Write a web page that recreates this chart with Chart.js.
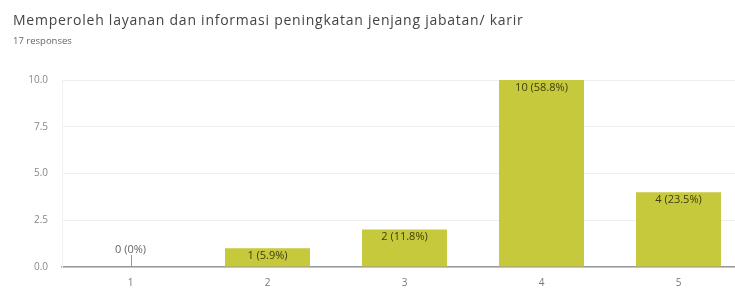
<!DOCTYPE html>
<html>
<head>
<meta charset="utf-8">
<script src="https://cdn.jsdelivr.net/npm/chart.js@4"></script>
<style>
  html, body { margin: 0; padding: 0; background: #fff; overflow: hidden; }
  body { width: 735px; height: 288px; position: relative; font-family: "Open Sans", Arial, sans-serif; }
  .title { position: absolute; left: 13px; top: 10px; font-size: 14px; letter-spacing: 0.75px; color: #444; white-space: nowrap; }
  .sub { position: absolute; left: 13px; top: 34px; font-size: 9.5px; color: #666; }
  .wrap { position: absolute; left: 0; top: 0; width: 750px; height: 288px; }
</style>
</head>
<body>
<div class="wrap"><canvas id="chart"></canvas></div>
<div class="title">Memperoleh layanan dan informasi peningkatan jenjang jabatan/ karir</div>
<div class="sub">17 responses</div>
<script>
const categories = ['1', '2', '3', '4', '5'];
const counts = [0, 1, 2, 10, 4];
const labels = ['0 (0%)', '1 (5.9%)', '2 (11.8%)', '10 (58.8%)', '4 (23.5%)'];
const yTicks = [0, 2.5, 5, 7.5, 10];

// draws the "n (x%)" text at the top of each bar
const barLabels = {
  id: 'barLabels',
  afterDatasetsDraw(chart) {
    const ctx = chart.ctx;
    const meta = chart.getDatasetMeta(0);
    const base = chart.scales.y.getPixelForValue(0);
    ctx.save();
    ctx.font = '11px "Open Sans", Arial, sans-serif';
    ctx.textAlign = 'center';
    meta.data.forEach((bar, i) => {
      if (counts[i] === 0) {
        ctx.strokeStyle = '#999';
        ctx.lineWidth = 1;
        ctx.beginPath();
        ctx.moveTo(Math.round(bar.x) + 0.5, base - 12);
        ctx.lineTo(Math.round(bar.x) + 0.5, base);
        ctx.stroke();
        ctx.fillStyle = '#666';
        ctx.textBaseline = 'bottom';
        ctx.fillText(labels[i], bar.x, base - 12);
      } else {
        ctx.fillStyle = '#3d3d10';
        ctx.textBaseline = 'top';
        ctx.fillText(labels[i], bar.x, bar.y + 2);
      }
    });
    ctx.restore();
  }
};

new Chart(document.getElementById('chart'), {
  type: 'bar',
  data: {
    labels: categories,
    datasets: [{
      data: counts,
      backgroundColor: '#c6c93b',
      borderWidth: 0,
      categoryPercentage: 1,
      barPercentage: 0.62
    }]
  },
  options: {
    responsive: true,
    maintainAspectRatio: false,
    animation: false,
    layout: { padding: { top: 80, left: 0, right: 3, bottom: 0 } },
    plugins: {
      legend: { display: false },
      tooltip: { enabled: false }
    },
    scales: {
      x: {
        grid: { display: false },
        border: { color: '#999', width: 1.5 },
        ticks: { color: '#777', font: { size: 10, family: '"Open Sans", Arial, sans-serif' }, padding: 2 },
        afterFit: (s) => { s.height = 21; }
      },
      y: {
        min: 0,
        max: 10,
        afterBuildTicks: (s) => { s.ticks = yTicks.map(v => ({ value: v })); },
        grid: { color: '#eeeeee', drawTicks: false },
        border: { color: '#f2f2f2' },
        ticks: {
          color: '#888',
          font: { size: 10, family: '"Open Sans", Arial, sans-serif' },
          padding: 14,
          callback: (v) => v.toFixed(1)
        },
        afterFit: (s) => { s.width = 62; }
      }
    }
  },
  plugins: [barLabels]
});
</script>
</body>
</html>
